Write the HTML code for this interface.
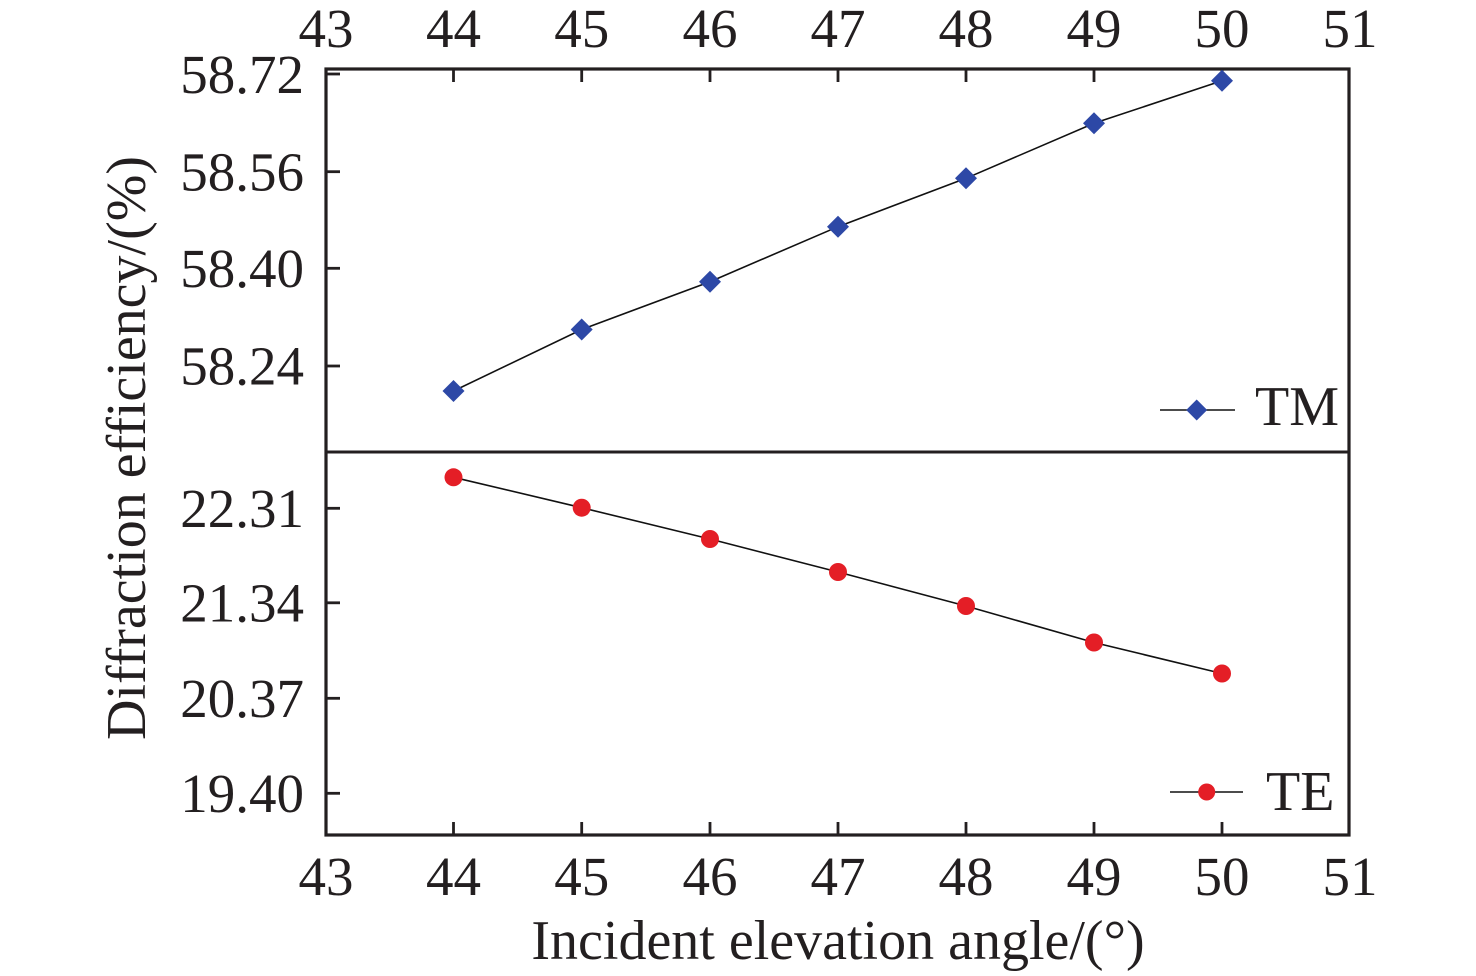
<!DOCTYPE html>
<html>
<head>
<meta charset="utf-8">
<style>
html,body{margin:0;padding:0;background:#fff;}
svg{display:block;}
text{font-family:"Liberation Serif","Times New Roman",serif;fill:#231f20;}
</style>
</head>
<body>
<svg width="1476" height="976" viewBox="0 0 1476 976" xmlns="http://www.w3.org/2000/svg">
<rect width="1476" height="976" fill="#fff"/>

<!-- plot frame -->
<rect x="326" y="69" width="1023" height="766" fill="none" stroke="#231f20" stroke-width="3.2"/>
<!-- divider -->
<line x1="326" y1="452" x2="1349" y2="452" stroke="#231f20" stroke-width="3"/>

<!-- top ticks -->
<g stroke="#231f20" stroke-width="2.8">
<line x1="453.5" y1="69" x2="453.5" y2="82"/>
<line x1="581.7" y1="69" x2="581.7" y2="82"/>
<line x1="710" y1="69" x2="710" y2="82"/>
<line x1="838" y1="69" x2="838" y2="82"/>
<line x1="966" y1="69" x2="966" y2="82"/>
<line x1="1094" y1="69" x2="1094" y2="82"/>
<line x1="1222" y1="69" x2="1222" y2="82"/>
<!-- bottom ticks -->
<line x1="453.5" y1="822" x2="453.5" y2="835"/>
<line x1="581.7" y1="822" x2="581.7" y2="835"/>
<line x1="710" y1="822" x2="710" y2="835"/>
<line x1="838" y1="822" x2="838" y2="835"/>
<line x1="966" y1="822" x2="966" y2="835"/>
<line x1="1094" y1="822" x2="1094" y2="835"/>
<line x1="1222" y1="822" x2="1222" y2="835"/>
<!-- left ticks -->
<line x1="326" y1="74" x2="340" y2="74"/>
<line x1="326" y1="171.7" x2="340" y2="171.7"/>
<line x1="326" y1="268.3" x2="340" y2="268.3"/>
<line x1="326" y1="366" x2="340" y2="366"/>
<line x1="326" y1="508.3" x2="340" y2="508.3"/>
<line x1="326" y1="602.8" x2="340" y2="602.8"/>
<line x1="326" y1="698.3" x2="340" y2="698.3"/>
<line x1="326" y1="793.3" x2="340" y2="793.3"/>
</g>

<!-- top tick labels -->
<g font-size="55" text-anchor="middle">
<text x="326" y="47">43</text>
<text x="453.5" y="47">44</text>
<text x="581.7" y="47">45</text>
<text x="710" y="47">46</text>
<text x="838" y="47">47</text>
<text x="966" y="47">48</text>
<text x="1094" y="47">49</text>
<text x="1222" y="47">50</text>
<text x="1350" y="47">51</text>
</g>
<!-- bottom tick labels -->
<g font-size="55" text-anchor="middle">
<text x="326" y="895">43</text>
<text x="453.5" y="895">44</text>
<text x="581.7" y="895">45</text>
<text x="710" y="895">46</text>
<text x="838" y="895">47</text>
<text x="966" y="895">48</text>
<text x="1094" y="895">49</text>
<text x="1222" y="895">50</text>
<text x="1350" y="895">51</text>
</g>
<!-- left tick labels -->
<g font-size="55" text-anchor="end">
<text x="304" y="93">58.72</text>
<text x="304" y="190.5">58.56</text>
<text x="304" y="287">58.40</text>
<text x="304" y="384.5">58.24</text>
<text x="304" y="527">22.31</text>
<text x="304" y="621.5">21.34</text>
<text x="304" y="717">20.37</text>
<text x="304" y="812">19.40</text>
</g>

<!-- axis titles -->
<text x="838" y="959" font-size="56" text-anchor="middle">Incident elevation angle/(°)</text>
<text transform="translate(145,448) rotate(-90)" font-size="56" text-anchor="middle">Diffraction efficiency/(%)</text>

<!-- TM series -->
<polyline points="453.5,391 581.7,329.5 710,281.7 838,226.7 966,178.3 1094,123.3 1222,80.7" fill="none" stroke="#111" stroke-width="1.6"/>
<g fill="#2d48a6">
<polygon points="453.5,380 464.5,391 453.5,402 442.5,391"/>
<polygon points="581.7,318.5 592.7,329.5 581.7,340.5 570.7,329.5"/>
<polygon points="710,270.7 721,281.7 710,292.7 699,281.7"/>
<polygon points="838,215.7 849,226.7 838,237.7 827,226.7"/>
<polygon points="966,167.3 977,178.3 966,189.3 955,178.3"/>
<polygon points="1094,112.3 1105,123.3 1094,134.3 1083,123.3"/>
<polygon points="1222,69.7 1233,80.7 1222,91.7 1211,80.7"/>
</g>

<!-- TE series -->
<polyline points="453.5,477.3 581.7,507.7 710,539 838,572 966,606 1094,642.5 1222,673.5" fill="none" stroke="#111" stroke-width="1.6"/>
<g fill="#e41e26">
<circle cx="453.5" cy="477.3" r="9"/>
<circle cx="581.7" cy="507.7" r="9"/>
<circle cx="710" cy="539" r="9"/>
<circle cx="838" cy="572" r="9"/>
<circle cx="966" cy="606" r="9"/>
<circle cx="1094" cy="642.5" r="9"/>
<circle cx="1222" cy="673.5" r="9"/>
</g>

<!-- legend TM -->
<line x1="1160" y1="410" x2="1235" y2="410" stroke="#111" stroke-width="1.6"/>
<polygon points="1196.7,399.5 1207.2,410 1196.7,420.5 1186.2,410" fill="#2d48a6"/>
<text x="1255" y="425" font-size="56">TM</text>
<!-- legend TE -->
<line x1="1170" y1="792" x2="1243" y2="792" stroke="#111" stroke-width="1.6"/>
<circle cx="1206.7" cy="792" r="8.5" fill="#e41e26"/>
<text x="1266" y="810" font-size="56">TE</text>
</svg>
</body>
</html>
